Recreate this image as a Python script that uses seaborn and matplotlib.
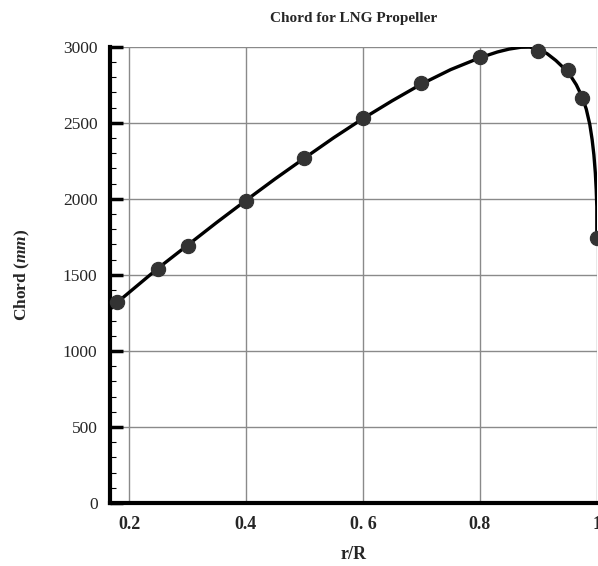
import matplotlib
matplotlib.use("Agg")
import matplotlib.pyplot as plt
import seaborn as sns
import pandas as pd
from matplotlib.ticker import MultipleLocator

# measured points
r_R = [0.18, 0.25, 0.30, 0.40, 0.50, 0.60, 0.70, 0.80, 0.90, 0.95, 0.975, 1.0]
chord = [1320, 1540, 1690, 1985, 2270, 2530, 2760, 2935, 2970, 2845, 2665, 1743]

# fitted curve
curve_x = [0.168, 0.18, 0.25, 0.30, 0.35, 0.40, 0.45, 0.50, 0.55, 0.60, 0.65, 0.70, 0.75,
           0.80, 0.83, 0.85, 0.87, 0.885, 0.90, 0.915, 0.93, 0.945, 0.955, 0.965, 0.975,
           0.982, 0.988, 0.992, 0.995, 0.9975, 0.999, 1.0, 1.0]
curve_y = [1275, 1320, 1545, 1695, 1845, 1990, 2132, 2268, 2402, 2528, 2645, 2755, 2850,
           2928, 2966, 2985, 2997, 2998, 2985, 2955, 2910, 2855, 2810, 2750, 2670,
           2590, 2490, 2390, 2290, 2170, 2060, 1950, 1743]

x_ticks = [0.2, 0.4, 0.6, 0.8, 1.0]
x_tick_labels = ["0.2", "0.4", "0. 6", "0.8", "1"]
y_ticks = [0, 500, 1000, 1500, 2000, 2500, 3000]

sns.set_style("white")
plt.rcParams["font.family"] = ["Liberation Serif", "DejaVu Serif"]
plt.rcParams["mathtext.fontset"] = "custom"
plt.rcParams["mathtext.it"] = "Liberation Serif:italic:bold"
plt.rcParams["mathtext.rm"] = "Liberation Serif:bold"

fig = plt.figure(figsize=(5.98, 5.66), dpi=100)
ax = fig.add_axes([0.184, 0.1113, 0.814, 0.806])

ax.set_xlim(0.1675, 1.0)
ax.set_ylim(0, 3000)

ax.grid(True, which="major", color="#8a8a8a", linewidth=1.0)
ax.set_axisbelow(True)

curve_df = pd.DataFrame({"x": curve_x, "y": curve_y})
sns.lineplot(data=curve_df, x="x", y="y", sort=False, estimator=None,
             color="black", linewidth=2.4, ax=ax, zorder=3)
pts_df = pd.DataFrame({"r": r_R, "c": chord})
sns.scatterplot(data=pts_df, x="r", y="c", s=105, color="#333333",
                edgecolor="#333333", ax=ax, zorder=4, clip_on=False)

ax.set_xticks(x_ticks)
ax.set_xticklabels(x_tick_labels, fontweight="bold", fontsize=13)
ax.set_yticks(y_ticks)
ax.set_yticklabels([str(v) for v in y_ticks], fontsize=12.5)
ax.xaxis.set_minor_locator(MultipleLocator(0.05))
ax.yaxis.set_minor_locator(MultipleLocator(100))
ax.tick_params(axis="both", which="major", direction="in", length=9, width=2.5,
               color="black", pad=9)
ax.tick_params(axis="both", which="minor", direction="in", length=4, width=0.8,
               color="black")
ax.tick_params(axis="x", which="both", top=False)
ax.tick_params(axis="y", which="both", right=False, left=True)

for s in ["top", "right"]:
    ax.spines[s].set_visible(False)
for s in ["left", "bottom"]:
    ax.spines[s].set_linewidth(3)
    ax.spines[s].set_color("black")

ax.set_title("Chord for LNG Propeller", fontsize=11, fontweight="bold", pad=18)
ax.set_xlabel("r/R", fontsize=13, fontweight="bold", labelpad=10)
ax.set_ylabel(r"Chord ($\mathit{mm}$)", fontsize=12.5, fontweight="bold", labelpad=22)

fig.savefig("out.png", dpi=100)
